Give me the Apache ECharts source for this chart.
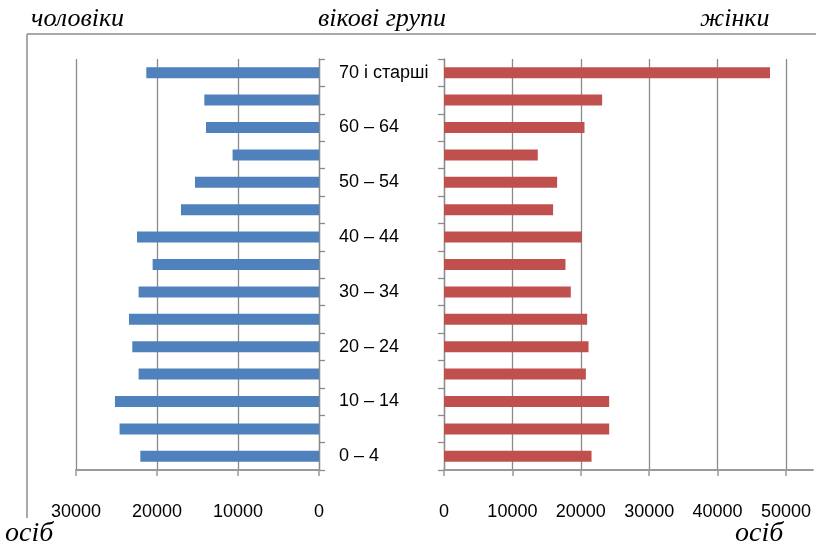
<!DOCTYPE html>
<html>
<head>
<meta charset="utf-8">
<script src="https://cdn.jsdelivr.net/npm/echarts@6/dist/echarts.min.js"></script>
<style>html,body{margin:0;padding:0;background:#fff}#c{width:816px;height:547px}</style>
</head>
<body>
<div id="c"></div>
<script>
const categories = ['0 – 4','5 – 9','10 – 14','15 – 19','20 – 24','25 – 29','30 – 34','35 – 39','40 – 44','45 – 49','50 – 54','55 – 59','60 – 64','65 – 69','70 і старші'];
const men   = [22060, 24620, 25190, 22270, 23050, 23460, 22270, 20540, 22470, 17040, 15310, 10670, 13950, 14160, 21320];
const women = [21570, 24150, 24150, 20740, 21130, 20930, 18540, 17760, 20150, 15950, 16540, 13710, 20540, 23120, 47660];
const menTicks = [0, 10000, 20000, 30000];
const womenTicks = [0, 10000, 20000, 30000, 40000, 50000];

const chart = echarts.init(document.getElementById('c'), null, {renderer: 'canvas'});
const lblFont = {fontFamily: 'Liberation Sans', fontSize: 18, color: '#000'};
const gridLine = {show: true, lineStyle: {color: '#8a8a8a', width: 1.3}};
const bottomAxisLine = {show: true, lineStyle: {color: '#9a9a9a', width: 1.8}};
const catAxisLine = {show: true, lineStyle: {color: '#8a8a8a', width: 1.3}};
const ttl = (t, x, y, size) => ({type: 'text', left: x, top: y, style: {text: t, font: 'italic ' + size + 'px "Liberation Serif"', fill: '#000'}});

chart.setOption({
  animation: false,
  backgroundColor: '#fff',
  graphic: [
    {type: 'line', shape: {x1: 27, y1: 34, x2: 816, y2: 34}, style: {stroke: '#8c8c8c', lineWidth: 1.5}},
    {type: 'line', shape: {x1: 27, y1: 34, x2: 27, y2: 518}, style: {stroke: '#8c8c8c', lineWidth: 1.5}},
    ttl('чоловіки', 31, 6, 26),
    ttl('вікові групи', 318, 6, 26),
    ttl('жінки', 700, 6, 26),
    ttl('осіб', 5, 520, 28),
    ttl('осіб', 735, 520, 28)
  ],
  grid: [
    {left: 76, top: 59, width: 243, height: 411},
    {left: 444, top: 59, width: 342, height: 411},
    {left: 444, top: 59, width: 369, height: 411}
  ],
  xAxis: [
    {type: 'value', gridIndex: 0, inverse: true, min: menTicks[0], max: menTicks[menTicks.length-1], interval: 10000,
     axisLine: bottomAxisLine, axisTick: {show: true, length: 6, lineStyle: {color: '#9a9a9a', width: 1.5}},
     splitLine: gridLine, axisLabel: Object.assign({margin: 33, formatter: v => String(v)}, lblFont)},
    {type: 'value', gridIndex: 1, min: womenTicks[0], max: womenTicks[womenTicks.length-1], interval: 10000,
     axisLine: bottomAxisLine, axisTick: {show: true, length: 6, lineStyle: {color: '#9a9a9a', width: 1.5}},
     splitLine: gridLine, axisLabel: Object.assign({margin: 33, formatter: v => String(v)}, lblFont)},
    {type: 'value', gridIndex: 2, min: 0, max: 1,
     axisLine: bottomAxisLine, axisTick: {show: false}, splitLine: {show: false}, axisLabel: {show: false}}
  ],
  yAxis: [
    {type: 'category', gridIndex: 0, position: 'right', data: categories,
     axisLine: catAxisLine, axisTick: {show: true, interval: 0, length: 6, lineStyle: {color: '#8a8a8a', width: 1.3}},
     axisLabel: Object.assign({interval: 1, margin: 20}, lblFont), splitLine: {show: false}},
    {type: 'category', gridIndex: 1, position: 'left', data: categories,
     axisLine: catAxisLine, axisTick: {show: true, interval: 0, length: 6, lineStyle: {color: '#8a8a8a', width: 1.3}},
     axisLabel: {show: false}, splitLine: {show: false}},
    {type: 'category', gridIndex: 2, data: categories, show: false}
  ],
  series: [
    {name: 'чоловіки', type: 'bar', xAxisIndex: 0, yAxisIndex: 0, data: men, barWidth: 11,
     itemStyle: {color: '#4F81BD'}},
    {name: 'жінки', type: 'bar', xAxisIndex: 1, yAxisIndex: 1, data: women, barWidth: 11,
     itemStyle: {color: '#C0504D'}}
  ]
});
</script>
</body>
</html>
